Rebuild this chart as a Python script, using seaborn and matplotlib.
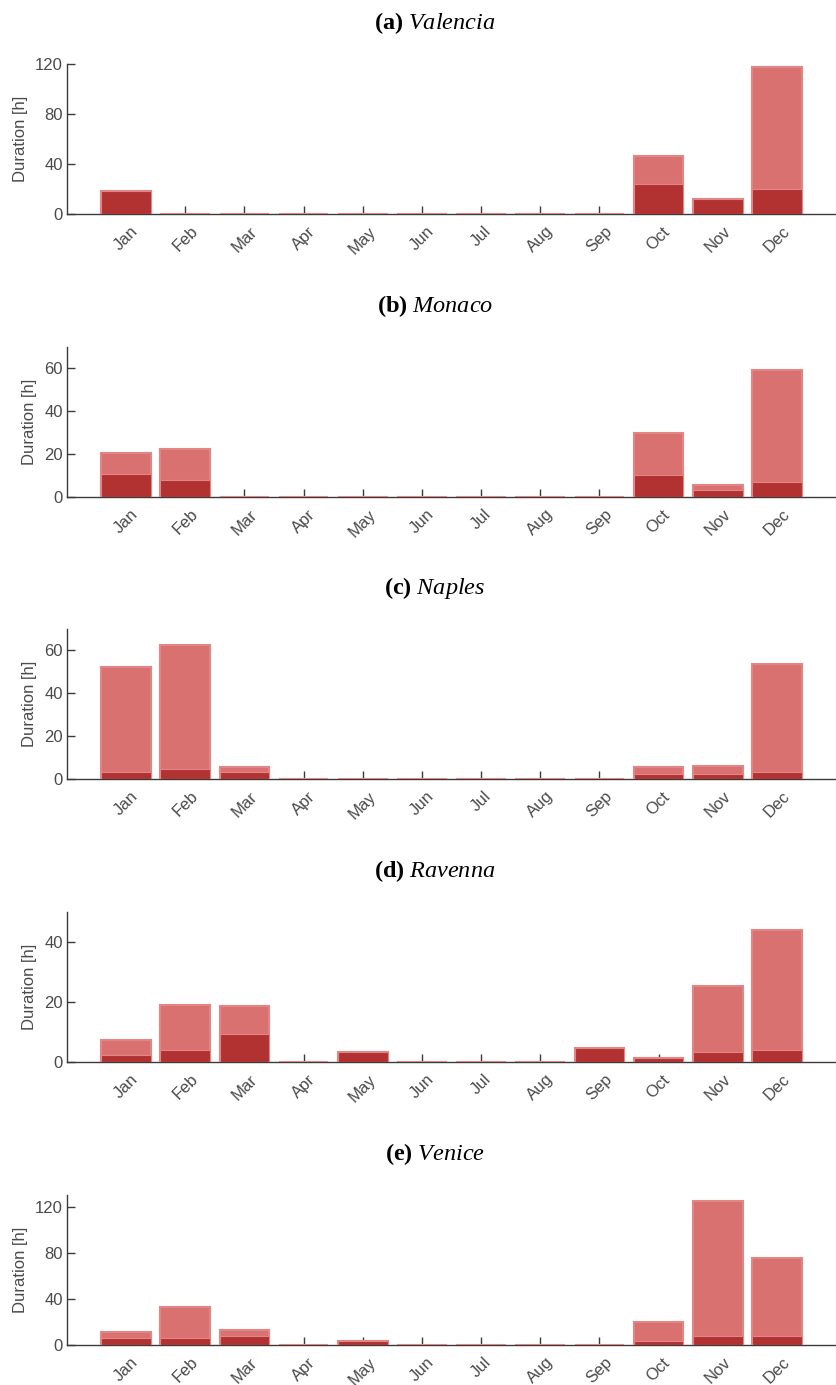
import seaborn as sns
import matplotlib.pyplot as plt

# ------------------------------
# Data (hours per month)
# ------------------------------
months = ["Jan", "Feb", "Mar", "Apr", "May", "Jun",
          "Jul", "Aug", "Sep", "Oct", "Nov", "Dec"]

valencia_total = [18.6, 0, 0, 0, 0, 0, 0, 0, 0, 46.4, 12.3, 118.0]
valencia_part = [18.6, 0, 0, 0, 0, 0, 0, 0, 0, 24.0, 12.3, 20.0]

monaco_total = [20.6, 22.2, 0, 0, 0, 0, 0, 0, 0, 29.8, 5.4, 59.4]
monaco_part = [10.7, 7.8, 0, 0, 0, 0, 0, 0, 0, 10.1, 3.3, 7.1]

naples_total = [52.5, 62.5, 5.4, 0, 0, 0, 0, 0, 0, 5.4, 6.2, 53.5]
naples_part = [3.3, 4.8, 3.4, 0, 0, 0, 0, 0, 0, 2.5, 2.5, 3.3]

ravenna_total = [7.3, 19.1, 18.7, 0, 3.5, 0, 0, 0, 4.6, 1.3, 25.2, 44.1]
ravenna_part = [2.4, 4.1, 9.5, 0, 3.5, 0, 0, 0, 4.6, 1.3, 3.4, 4.1]

venice_total = [11.6, 33.0, 13.3, 0, 3.2, 0, 0, 0, 0, 20.2, 124.6, 75.2]
venice_part = [6.4, 6.4, 8.1, 0, 3.2, 0, 0, 0, 0, 3.2, 7.8, 7.8]

panels = [
    ("a", "Valencia", valencia_total, valencia_part, 120, [0, 40, 80, 120]),
    ("b", "Monaco", monaco_total, monaco_part, 70, [0, 20, 40, 60]),
    ("c", "Naples", naples_total, naples_part, 70, [0, 20, 40, 60]),
    ("d", "Ravenna", ravenna_total, ravenna_part, 50, [0, 20, 40]),
    ("e", "Venice", venice_total, venice_part, 130, [0, 40, 80, 120]),
]

# ------------------------------
# Style
# ------------------------------
sns.set_style("ticks")
plt.rcParams['font.family'] = ['Liberation Sans', 'DejaVu Sans']
plt.rcParams['mathtext.fontset'] = 'custom'
plt.rcParams['mathtext.rm'] = 'Liberation Serif'
plt.rcParams['mathtext.it'] = 'Liberation Serif:italic'
plt.rcParams['mathtext.bf'] = 'Liberation Serif:bold'

light_red = "#D97171"
dark_red = "#B23131"
edge_pink = "#E18585"
axis_gray = "#3a3a3a"
text_gray = "#4a4a4a"

W, H = 836, 1385
fig = plt.figure(figsize=(W / 100, H / 100), dpi=100)

ax_left = 67
ax_width = 769
ax_height = 150
ax_tops = [64, 347, 629, 912, 1195]

for (letter, city, total, part, ytop, yticks), top in zip(panels, ax_tops):
    ax = fig.add_axes([ax_left / W, 1 - (top + ax_height) / H,
                       ax_width / W, ax_height / H])

    # total duration (light) and the darker part drawn over it
    sns.barplot(x=months, y=total, order=months, color=light_red,
                saturation=1, width=0.84, edgecolor=edge_pink,
                linewidth=1.5, errorbar=None, zorder=3, ax=ax)
    sns.barplot(x=months, y=part, order=months, color=dark_red,
                saturation=1, width=0.84, edgecolor=edge_pink,
                linewidth=0.8, errorbar=None, zorder=4, ax=ax)

    ax.set_xlim(-1, 12)
    ax.set_ylim(0, ytop)
    ax.set_yticks(yticks)
    ax.set_xlabel("")
    ax.set_ylabel("Duration [h]", fontsize=12, color=text_gray, labelpad=5)

    ax.tick_params(axis='both', direction='in', length=6, width=1,
                   color=axis_gray, labelcolor=text_gray, labelsize=12)
    ax.tick_params(axis='y', pad=3)
    ax.tick_params(axis='x', pad=7)
    for lbl in ax.get_xticklabels():
        lbl.set_rotation(45)
        lbl.set_ha('center')

    sns.despine(ax=ax, top=True, right=True)
    for side in ['left', 'bottom']:
        ax.spines[side].set_color(axis_gray)
        ax.spines[side].set_linewidth(1.0)

    # panel title: bold letter + italic city name
    fig.text(435 / W, 1 - (top - 41) / H,
             r"$\mathbf{(" + letter + r")}\ \mathit{" + city + r"}$",
             ha='center', va='center', fontsize=17.5, color='black')

fig.savefig("out.png", dpi=100, facecolor='white')
